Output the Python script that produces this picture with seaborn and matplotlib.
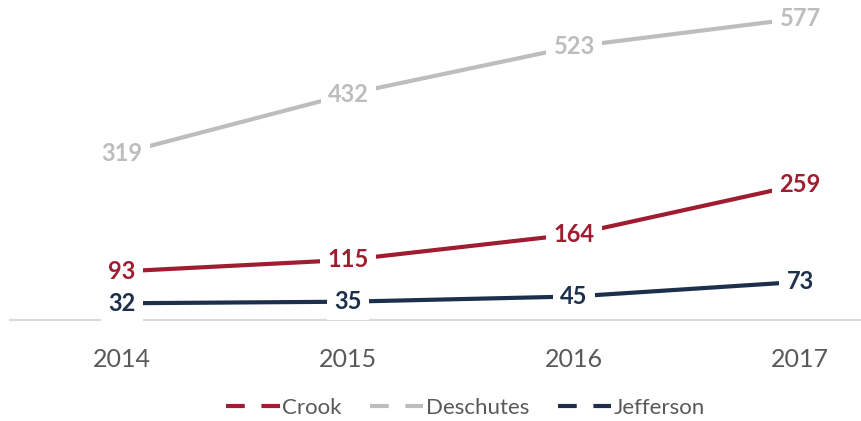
import pandas as pd
import numpy as np
import matplotlib
matplotlib.use('Agg')
import matplotlib.pyplot as plt
import seaborn as sns
from matplotlib import font_manager
from matplotlib.lines import Line2D

years = [2014, 2015, 2016, 2017]
crook = [93, 115, 164, 259]
deschutes = [319, 432, 523, 577]
jefferson = [32, 35, 45, 73]
counties = ['Crook', 'Deschutes', 'Jefferson']
colors = {'Crook': '#A01C30', 'Deschutes': '#BDBDBD', 'Jefferson': '#1C2F4B'}

# long form table for seaborn
data = pd.DataFrame({
    '年份': years * 3,
    '数量': crook + deschutes + jefferson,
    '县': ['Crook'] * 4 + ['Deschutes'] * 4 + ['Jefferson'] * 4,
})

sns.set_theme(style='white')
names = {f.name for f in font_manager.fontManager.ttflist}
fam = 'Liberation Sans Narrow' if 'Liberation Sans Narrow' in names else 'Lato'
plt.rcParams['font.family'] = [fam, 'DejaVu Sans']

fig = plt.figure(figsize=(8.62, 4.21), dpi=100)
ax = fig.add_axes([10 / 862, 1 - 320 / 421, 852 / 862, 320 / 421])

sns.lineplot(data=data, x='年份', y='数量', hue='县', palette=colors,
             linewidth=3, legend=False, ax=ax, zorder=2)

ax.set_xlim(2013.504, 2017.274)
ax.set_ylim(0, 612)
for s in ['top', 'right', 'left']:
    ax.spines[s].set_visible(False)
ax.spines['bottom'].set_color('#D9D9D9')
ax.spines['bottom'].set_linewidth(1.5)
ax.spines['bottom'].set_zorder(1)
ax.set_yticks([])
ax.set_xticks(years)
ax.set_xticklabels([str(y) for y in years])
ax.tick_params(axis='x', length=0, pad=20, labelsize=18, labelcolor='#595959')
ax.set_xlabel('')
ax.set_ylabel('')

# 数据标签，白色底框盖住线条
for name, vals in zip(counties, [crook, deschutes, jefferson]):
    for x, v in zip(years, vals):
        ax.text(x, v, str(v), ha='center', va='center', fontsize=17,
                fontweight='bold', color=colors[name], zorder=5,
                bbox=dict(boxstyle='square,pad=0.3', fc='white', ec='none'))

handles = [Line2D([0], [0], color=colors[c], lw=3, dashes=(4.5, 4))
           for c in counties]
fig.legend(handles, counties, loc='center', bbox_to_anchor=(0.54, 0.031),
           ncol=3, frameon=False, fontsize=16, labelcolor='#595959',
           handlelength=2.4, handletextpad=0.1, columnspacing=1.3)

plt.savefig('out.png', dpi=100)
